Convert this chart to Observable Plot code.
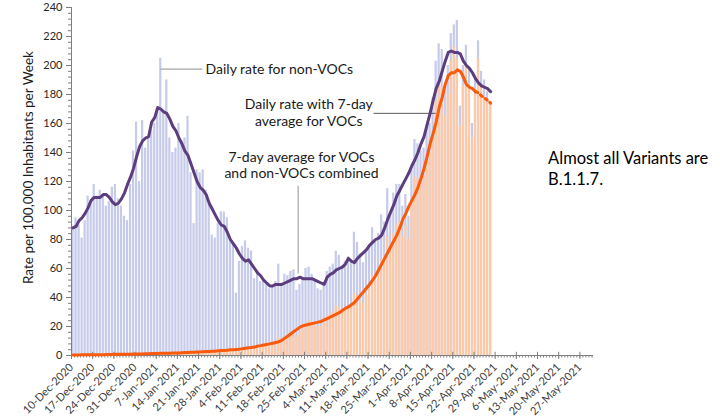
<!DOCTYPE html>
<html><head><meta charset="utf-8">
<script src="https://cdn.jsdelivr.net/npm/d3@7"></script>
<script src="https://cdn.jsdelivr.net/npm/@observablehq/plot@0.6"></script>
<style>
html,body{margin:0;padding:0;background:#fff;}
#chart{width:720px;height:418px;overflow:hidden;}
</style></head><body><div id="chart"></div>
<script>
// ---- data ----
const startDate = "2020-12-10";           // first day of the daily series
const axisEnd = "2021-05-31T12:00Z";

// daily rate, all cases (lavender bars)
const totalDaily = [
  88, 95, 90, 81, 93, 110, 104, 118, 110, 114,
  110, 103, 106, 116, 118, 108, 103, 96, 93, 118,
  141, 161, 120, 162, 143, 150, 155, 160, 168, 205,
  168, 190, 150, 140, 143, 160, 148, 150, 165, 126,
  91, 128, 126, 128, 114, 104, 83, 81, 91, 99,
  99, 95, 81, 77, 43, 65, 75, 79, 74, 72,
  53, 58, 51, 52, 50, 46, 47, 51, 63, 48,
  56, 55, 58, 59, 45, 49, 53, 60, 61, 56,
  52, 46, 45, 48, 58, 61, 63, 72, 69, 62,
  65, 68, 66, 85, 78, 70, 64, 72, 75, 88,
  80, 84, 97, 92, 115, 98, 112, 118, 118, 103,
  111, 96, 128, 149, 146, 141, 143, 159, 160, 178,
  203, 215, 211, 186, 200, 222, 228, 231, 172, 200,
  214, 198, 160, 190, 217, 196, 190, 182, 175
];
// daily rate, VOCs (orange bars)
const vocDaily = [
  0.3, 0.4, 0.3, 0.3, 0.5, 0.5, 0.4, 0.6, 0.5, 0.6,
  0.6, 0.5, 0.6, 0.8, 0.8, 0.7, 0.7, 0.6, 0.7, 0.9,
  1.1, 1.3, 1.0, 1.4, 1.3, 1.4, 1.5, 1.6, 1.7, 2.2,
  1.8, 2.1, 1.8, 1.7, 1.9, 2.2, 2.1, 2.2, 2.6, 2.1,
  1.6, 2.5, 2.6, 2.8, 2.7, 2.7, 2.3, 2.4, 2.9, 3.3,
  3.5, 3.7, 3.4, 3.5, 2.2, 3.6, 4.5, 5.0, 5.2, 5.4,
  4.5, 5.5, 5.6, 6.5, 7.0, 7.4, 8.0, 9.3, 12.5, 10.5,
  13, 13.5, 15, 16, 13.5, 16, 18, 22, 24, 23,
  22, 20, 20, 22, 27, 28, 30, 34, 33, 30,
  32, 34, 34, 43, 41, 38, 36, 42, 46, 55,
  52, 56, 66, 64, 82, 72, 84, 90, 92, 82,
  90, 80, 106, 123, 122, 120, 124, 138, 140, 155,
  176, 188, 186, 165, 180, 203, 213, 205, 158, 186,
  200, 186, 150, 180, 205, 186, 178, 175, 173
];
// 7-day average, VOCs and non-VOCs combined (purple line)
const total7 = [
  88, 89, 93, 95, 98, 102, 107, 109, 109, 109,
  111, 111, 109, 106, 104, 105, 108, 112, 118, 123,
  129, 137, 144, 148, 150, 151, 161, 164, 171, 170,
  168, 167, 163, 158, 155, 150, 146, 141, 138, 132,
  126, 120, 116, 114, 111, 105, 101, 97, 93, 90,
  89, 85, 80, 77, 74, 70, 67, 65, 66, 63,
  60, 57, 55, 52, 50, 48, 48, 49, 49, 49,
  50, 51, 52, 53, 53, 54, 53, 53, 53, 53,
  52, 51, 50, 49, 54, 56, 57, 59, 60, 61,
  63, 67, 65, 64, 67, 69, 71, 73, 76, 78,
  80, 81, 83, 88, 94, 99, 104, 110, 114, 118,
  122, 126, 131, 135, 140, 146, 151, 159, 167, 176,
  184, 189, 196, 203, 209, 210, 209, 209, 208, 203,
  200, 198, 195, 191, 188, 186, 185, 184, 182
];
// 7-day average, VOCs (orange line)
const voc7 = [
  0.4, 0.4, 0.4, 0.5, 0.5, 0.5, 0.5, 0.6, 0.6, 0.6,
  0.6, 0.7, 0.7, 0.7, 0.8, 0.8, 0.8, 0.8, 0.9, 0.9,
  1.0, 1.0, 1.1, 1.1, 1.2, 1.2, 1.3, 1.3, 1.4, 1.5,
  1.5, 1.6, 1.6, 1.7, 1.7, 1.8, 1.9, 2.0, 2.1, 2.2,
  2.3, 2.4, 2.5, 2.6, 2.7, 2.8, 2.9, 3.0, 3.2, 3.4,
  3.5, 3.7, 3.9, 4.0, 4.2, 4.4, 4.6, 5.0, 5.3, 5.5,
  5.8, 6.5, 6.8, 7.2, 7.6, 8.0, 8.5, 9.0, 9.5, 10.5,
  12, 13.5, 15, 16.5, 18, 19.5, 20.5, 21, 21.5, 22,
  22.5, 23, 23.5, 24.5, 25.5, 26.5, 27.5, 28.5, 29.5, 31,
  32.5, 33.5, 35, 36.5, 39, 41.5, 44, 46.5, 49, 52,
  55, 59, 63, 67, 71, 75, 79, 83, 88, 94,
  98, 103, 107, 111, 116, 122, 129, 137, 146, 153,
  161, 171, 178, 187, 193, 195, 195, 197, 196, 192,
  187, 185, 184, 182, 181, 179, 177.5, 176, 174
];
const solidUntil = 133; // orange line is dotted after this day index

const tickLabels = [
  "10-Dec-2020", "17-Dec-2020", "24-Dec-2020", "31-Dec-2020", "7-Jan-2021",
  "14-Jan-2021", "21-Jan-2021", "28-Jan-2021", "4-Feb-2021", "11-Feb-2021",
  "18-Feb-2021", "25-Feb-2021", "4-Mar-2021", "11-Mar-2021", "18-Mar-2021",
  "25-Mar-2021", "1-Apr-2021", "8-Apr-2021", "15-Apr-2021", "22-Apr-2021",
  "29-Apr-2021", "6-May-2021", "13-May-2021", "20-May-2021", "27-May-2021"
];
const yTicks = [0, 20, 40, 60, 80, 100, 120, 140, 160, 180, 200, 220, 240];
const yLabel = "Rate per 100,000 Inhabitants per Week";
const noteNonVoc = "Daily rate for non-VOCs";
const noteVoc = "Daily rate with 7-day\naverage for VOCs";
const noteCombined = "7-day average for VOCs\nand non-VOCs combined";
const sideNote = "Almost all Variants are\nB.1.1.7.";

// ---- build ----
const t0 = d3.utcParse("%Y-%m-%d")(startDate);
const t1 = new Date(axisEnd);
const dayAt = n => new Date(t0.getTime() + n * 864e5);
const rows = totalDaily.map((v, i) => ({
  x1: dayAt(i), x2: dayAt(i + 1), mid: dayAt(i + 0.5),
  total: v, voc: vocDaily[i], total7: total7[i], voc7: voc7[i]
}));
const tickDates = tickLabels.map(d3.utcParse("%d-%b-%Y"));
const font = "Lato, 'Open Sans', sans-serif";
const axisColor = "#7f7f7f";

const chart = Plot.plot({
  width: 720, height: 418,
  marginLeft: 71, marginRight: 127, marginTop: 7, marginBottom: 63,
  style: {fontFamily: font, fontSize: "10px", color: "#404040", background: "#fff", overflow: "visible"},
  x: {type: "utc", domain: [t0, t1]},
  y: {domain: [0, 240]},
  marks: [
    Plot.rectY(rows, {x1: "x1", x2: "x2", y: "total", fill: "#c6cbea", insetLeft: 0.4, insetRight: 0.4}),
    Plot.rectY(rows, {x1: "x1", x2: "x2", y: "voc", fill: "#fdc9a6", insetLeft: 0.4, insetRight: 0.4}),
    Plot.axisY(d3.range(0, 241, 4), {tickSize: 3, tickFormat: () => "", stroke: axisColor, label: null}),
    Plot.axisY(yTicks, {tickSize: 5, tickPadding: 4, fontSize: 11, fill: "#262626", stroke: axisColor, label: null}),
    Plot.axisX(d3.utcDay.range(t0, t1), {tickSize: 2.5, tickFormat: () => "", stroke: axisColor, label: null}),
    Plot.axisX(tickDates, {tickSize: 4, tickRotate: -45, tickPadding: 6, fontSize: 11, fill: "#404040", stroke: axisColor,
      tickFormat: d3.utcFormat("%-d-%b-%Y"), label: null}),
    Plot.ruleX(tickDates, {y1: 0, y2: 2.2, stroke: axisColor}),
    Plot.ruleY([0], {stroke: axisColor}),
    Plot.ruleX([t0], {stroke: axisColor}),
    // annotation leaders
    Plot.link([0], {x1: dayAt(29.3), y1: 197.5, x2: dayAt(43.2), y2: 197.5, stroke: "#a6a6a6", strokeWidth: 1.2}),
    Plot.link([0], {x1: dayAt(99.8), y1: 167, x2: dayAt(120.3), y2: 167, stroke: "#595959", strokeWidth: 1}),
    Plot.link([0], {x1: dayAt(74.9), y1: 117, x2: dayAt(74.9), y2: 56.5, stroke: "#a6a6a6", strokeWidth: 1.2}),
    // lines
    Plot.line(rows.slice(0, solidUntil + 1), {x: "mid", y: "voc7", stroke: "#fa5a0c", strokeWidth: 3}),
    Plot.line(rows.slice(solidUntil), {x: "mid", y: "voc7", stroke: "#fa5a0c", strokeWidth: 3, strokeDasharray: "2.5,3.5"}),
    Plot.line(rows, {x: "mid", y: "total7", stroke: "#5c3e7e", strokeWidth: 3}),
    // texts
    Plot.text([yLabel], {frameAnchor: "left", textAnchor: "middle", rotate: -90, dx: -43, dy: -14, fontSize: 13.5, fill: "#1a1a1a"}),
    Plot.text([noteNonVoc], {x: dayAt(44.3), y: 197.5, textAnchor: "start", fontSize: 14, fill: "#1a1a1a"}),
    Plot.text([noteVoc], {x: dayAt(78.4), y: 168, textAnchor: "middle", fontSize: 14, lineHeight: 1.2, fill: "#1a1a1a"}),
    Plot.text([noteCombined], {x: dayAt(76), y: 131.4, textAnchor: "middle", fontSize: 14, lineHeight: 1.1, fill: "#1a1a1a"}),
    Plot.text([sideNote], {x: dayAt(157.5), y: 129.3, textAnchor: "start", fontSize: 16.5, lineHeight: 1.22, fill: "#000"})
  ]
});
document.getElementById("chart").appendChild(chart);
</script>
</body></html>
